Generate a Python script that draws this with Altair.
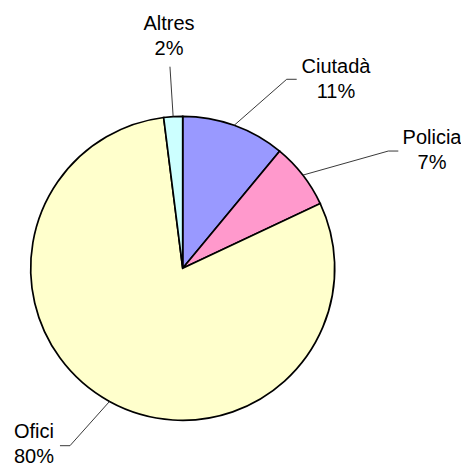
import altair as alt
import pandas as pd

# --- data ---
categories = ["Ciutadà", "Policia", "Ofici", "Altres"]
values = [11, 7, 80, 2]
colors = ["#9999FF", "#FF99CC", "#FFFFCC", "#CCFFFF"]

# --- layout (pixels, chart coordinates) ---
CX, CY, R = 174.7, 260.3, 152
LINE_H = 25
# leader elbow offset from slice edge point, horizontal tail length, label offset from edge point
elbow_dx = [52.5, 85.5, -39.5, -3.2]
elbow_dy = [-46, -24.1, 44.2, -49.9]
tail = [10, 10, -10, 0]
label_dx = [101.8, 129.2, -75.5, -4.2]
label_dy = [-45.3, -25.1, 43.5, -79.6]

df = pd.DataFrame({
    "idx": range(len(categories)),
    "category": categories,
    "value": values,
    "label": [f"{c}\n{v}%" for c, v in zip(categories, values)],
    "edx": elbow_dx, "edy": elbow_dy, "tail": tail,
    "ldx": label_dx, "ldy": label_dy,
})

base = alt.Chart(df)

pie = base.mark_arc(outerRadius=R, stroke="black", strokeWidth=1.7).encode(
    theta=alt.Theta("value:Q", stack=True),
    color=alt.Color("category:N", scale=alt.Scale(domain=categories, range=colors), legend=None),
    order=alt.Order("idx:Q", sort="ascending"),
    x=alt.value(CX),
    y=alt.value(CY),
)

geo = base.transform_window(
    cum="sum(value)", sort=[{"field": "idx"}]
).transform_joinaggregate(
    total="sum(value)"
).transform_calculate(
    mid="2*PI*(datum.cum - datum.value/2)/datum.total"
).transform_calculate(
    ex=f"{CX} + {R}*sin(datum.mid)",
    ey=f"{CY} - {R}*cos(datum.mid)",
).transform_calculate(
    bx="datum.ex + datum.edx",
    by="datum.ey + datum.edy",
    lx="datum.ex + datum.ldx",
    ly=f"datum.ey + datum.ldy - {LINE_H}/2",
).transform_calculate(
    tx="datum.bx + datum.tail",
)

lead1 = geo.mark_rule(color="#222222", strokeWidth=0.9).encode(
    x=alt.X("ex:Q", scale=None, axis=None),
    y=alt.Y("ey:Q", scale=None, axis=None),
    x2="bx:Q",
    y2="by:Q",
)
lead2 = geo.mark_rule(color="#222222", strokeWidth=0.9).encode(
    x=alt.X("bx:Q", scale=None, axis=None),
    y=alt.Y("by:Q", scale=None, axis=None),
    x2="tx:Q",
    y2="by:Q",
)
labels = geo.mark_text(
    lineBreak="\n", font="Liberation Sans", fontSize=20, lineHeight=LINE_H,
    align="center", baseline="middle", color="black",
).encode(
    x=alt.X("lx:Q", scale=None, axis=None),
    y=alt.Y("ly:Q", scale=None, axis=None),
    text="label:N",
)

chart = alt.layer(pie, lead1, lead2, labels).properties(
    width=453, height=461, padding=0, autosize="none"
).configure_view(stroke=None)

chart.save("out.html", embed_options={"renderer": "svg", "actions": False})
